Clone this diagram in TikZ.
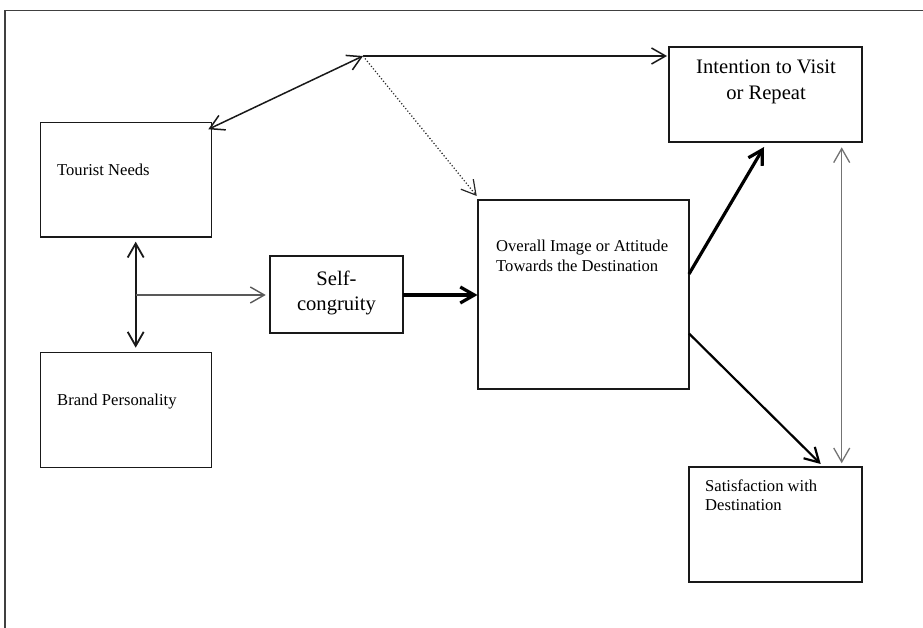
\documentclass[tikz,border=0pt]{standalone}
\usepackage{fontspec}
\setmainfont{Liberation Serif}
\usetikzlibrary{arrows.meta}

\begin{document}
\begin{tikzpicture}[x=1pt,y=-1pt,
  box/.style={draw=black!90,line width=1.4pt,inner sep=0pt,outer sep=0pt,rectangle},
  small/.style={inner sep=0pt,font=\fontsize{16.6}{20}\selectfont},
  big/.style={inner sep=0pt,font=\fontsize{20.6}{25}\selectfont},
  link/.style={line width=1.5pt,draw=black!90},
  >={Straight Barb[length=14pt,width=16pt]}
]
\useasboundingbox (0,0) rectangle (923,628);

% open frame (top and left edges)
\draw[line width=1.6pt,black!75] (4.7,628) -- (4.7,10.7) -- (923,10.7);

% boxes
\node[box,minimum width=171pt,minimum height=114.3pt] (tn)  at (126.2,179.9) {};
\node[box,minimum width=171pt,minimum height=114.6pt] (bp)  at (126.2,410) {};
\node[box,minimum width=133pt,minimum height=77pt]    (sc)  at (336.5,294.5) {};
\node[box,minimum width=211pt,minimum height=189pt]   (ovr) at (583.5,294.5) {};
\node[box,minimum width=193pt,minimum height=95pt]    (itv) at (765.5,94.5) {};
\node[box,minimum width=173pt,minimum height=115pt]   (sat) at (775.5,524.5) {};

% labels
\node[small,anchor=base west] (tnT) at (57,176) {Tourist Needs};
\node[small,anchor=base west] (bpT) at (57,405.7) {Brand Personality};
\node[big,anchor=base] (scA) at (336.5,285) {Self-};
\node[big,anchor=base] (scB) at (336.5,310) {congruity};
\node[small,anchor=base west] (ovrA) at (496,252) {Overall Image or Attitude};
\node[small,anchor=base west] (ovrB) at (496,272) {Towards the Destination};
\node[big,anchor=base] (itvA) at (766,74) {Intention to Visit};
\node[big,anchor=base] (itvB) at (766,100) {or Repeat};
\node[small,anchor=base west] (satA) at (705,491.7) {Satisfaction with};
\node[small,anchor=base west] (satB) at (705,510) {Destination};

% junction and attachment points
\coordinate (p)    at (363,56);
\coordinate (pTo)  at (667,56);
\coordinate (tnC)  at (208.3,129.3);
\coordinate (ovrN) at (476.7,196);
\coordinate (vTop) at (135.7,241.7);
\coordinate (vBot) at (135.7,347.7);
\coordinate (vMid) at (135.7,295);
\coordinate (scIn) at (265.7,295);
\coordinate (scOut) at (403,295);
\coordinate (ovrIn) at (477.5,295);
\coordinate (ovrE1) at (689,274);
\coordinate (itvIn) at (764,147);
\coordinate (ovrE2) at (689,333.5);
\coordinate (satIn) at (820.7,464);
\coordinate (rTop) at (841.7,147.3);
\coordinate (rBot) at (841.7,463.3);

% connectors
\draw[link,->] (p) -- (pTo);
\draw[link,<->] (tnC) -- (p);
\draw[line width=1.2pt,black!85,dotted,->] (p) -- (ovrN);
\draw[link,line width=1.8pt,<->] (vTop) -- (vBot);
\draw[line width=1.4pt,black!65,->] (vMid) -- (scIn);
\draw[line width=3.2pt,->] (scOut) -- (ovrIn);
\draw[line width=3.2pt,->] (ovrE1) -- (itvIn);
\draw[line width=2.2pt,->] (ovrE2) -- (satIn);
\draw[line width=1.3pt,black!55,<->] (rTop) -- (rBot);
\end{tikzpicture}
\end{document}
